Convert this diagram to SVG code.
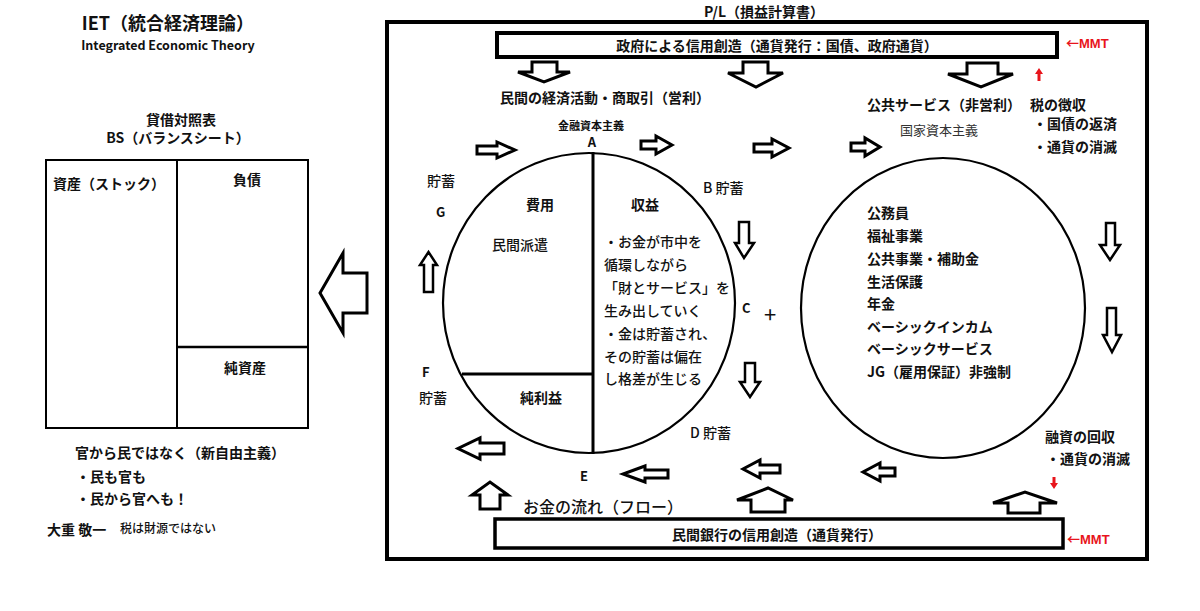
<svg xmlns="http://www.w3.org/2000/svg" width="1200" height="611" viewBox="0 0 1200 611">
<style>
text{font-family:"Noto Sans CJK JP","Noto Sans",sans-serif;fill:#111;}
.b{font-weight:bold;font-size:14px;}
.n{font-size:13px;}
.m{font-size:14px;font-weight:500;}
.l{font-weight:bold;font-size:13px;}
.red{font-family:"Liberation Sans","Noto Sans CJK JP",sans-serif;font-weight:bold;font-size:13px;fill:#e8141b;}
.ra{font-family:"Noto Sans CJK JP",sans-serif;font-weight:bold;}
.box{fill:#fff;stroke:#000;}
.arr{fill:#fff;stroke:#000;stroke-width:3;stroke-linejoin:miter;}
.arr2{fill:#fff;stroke:#000;stroke-width:2.5;stroke-linejoin:miter;}
.ln{stroke:#000;fill:none;}
</style>
<rect width="1200" height="611" fill="#fff"/>

<g id="title">
<text x="168" y="30" text-anchor="middle" style="font-weight:bold;font-size:18px">IET（統合経済理論）</text>
<text x="168" y="50" text-anchor="middle" style="font-weight:bold;font-size:12.5px">Integrated Economic Theory</text>
</g>

<g id="bs">
<text x="181" y="125" text-anchor="middle" class="b">貸借対照表</text>
<text x="178" y="143" text-anchor="middle" class="b">BS（バランスシート）</text>
<rect x="46" y="160" width="262" height="268" class="box" stroke-width="2"/>
<line x1="177" y1="160" x2="177" y2="428" class="ln" stroke-width="2"/>
<line x1="177" y1="347" x2="308" y2="347" class="ln" stroke-width="2.5"/>
<text x="53" y="189" class="b">資産（ストック）</text>
<text x="247" y="185" text-anchor="middle" class="b">負債</text>
<text x="245" y="373" text-anchor="middle" class="b">純資産</text>
</g>

<g id="notes">
<text x="75" y="458" class="b">官から民ではなく（新自由主義）</text>
<text x="76" y="482" class="b">・民も官も</text>
<text x="76" y="504" class="b">・民から官へも！</text>
<text x="47" y="535" class="b">大重 敬一</text>
<text x="120" y="533" style="font-size:12px;font-weight:500">税は財源ではない</text>
</g>

<g id="pl">
<text x="764" y="17" text-anchor="middle" class="b">P/L（損益計算書）</text>
<rect x="387" y="22" width="760" height="537" class="box" stroke-width="4"/>
</g>

<g id="gov">
<rect x="497" y="33" width="560" height="24" class="box" stroke-width="4"/>
<text x="777" y="51" text-anchor="middle" class="b">政府による信用創造（通貨発行：国債、政府通貨）</text>
<text x="1066" y="48" class="red"><tspan class="ra">←</tspan>MMT</text>
</g>

<g id="bank">
<rect x="495" y="519" width="568" height="29" class="box" stroke-width="3.5"/>
<text x="777" y="540" text-anchor="middle" class="b">民間銀行の信用創造（通貨発行）</text>
<text x="1067" y="544" class="red"><tspan class="ra">←</tspan>MMT</text>
</g>

<g id="private">
<text x="500" y="103" class="b">民間の経済活動・商取引（営利）</text>
<text x="591" y="130" text-anchor="middle" style="font-weight:bold;font-size:11px">金融資本主義</text>
<text x="592" y="147" text-anchor="middle" class="l">A</text>
<ellipse cx="589" cy="303" rx="146" ry="150" class="ln" stroke-width="2.2"/>
<line x1="593" y1="152" x2="593" y2="454" class="ln" stroke-width="3"/>
<line x1="462" y1="374" x2="593" y2="374" class="ln" stroke-width="3"/>
<text x="540" y="210" text-anchor="middle" class="b">費用</text>
<text x="645" y="210" text-anchor="middle" class="b">収益</text>
<text x="492" y="250" class="m">民間派遣</text>
<text x="604" y="247" class="m">・お金が市中を</text>
<text x="604" y="270" class="m">循環しながら</text>
<text x="604" y="293" class="m">「財とサービス」を</text>
<text x="604" y="316" class="m">生み出していく</text>
<text x="604" y="339" class="m">・金は貯蓄され、</text>
<text x="604" y="362" class="m">その貯蓄は偏在</text>
<text x="604" y="384" class="m">し格差が生じる</text>
<text x="541" y="403" text-anchor="middle" class="b">純利益</text>
</g>

<g id="labels">
<text x="427" y="186" class="m">貯蓄</text>
<text x="436" y="217" class="l">G</text>
<text x="703" y="193" class="m">B 貯蓄</text>
<text x="742" y="313" class="l">C</text>
<text x="770" y="323" text-anchor="middle" style="font-size:22px">+</text>
<text x="422" y="377" class="l">F</text>
<text x="419" y="403" class="m">貯蓄</text>
<text x="690" y="438" class="m">D 貯蓄</text>
<text x="584" y="481" text-anchor="middle" class="l">E</text>
<text x="523" y="513" style="font-weight:500;font-size:16px">お金の流れ（フロー）</text>
</g>

<g id="public">
<text x="867" y="110" class="b">公共サービス（非営利）</text>
<text x="900" y="135" style="font-size:13px;fill:#333">国家資本主義</text>
<ellipse cx="943" cy="308" rx="142" ry="150" class="ln" stroke-width="2.2"/>
<text x="867" y="218" class="b">公務員</text>
<text x="867" y="241" class="b">福祉事業</text>
<text x="867" y="264" class="b">公共事業・補助金</text>
<text x="867" y="287" class="b">生活保護</text>
<text x="867" y="309" class="b">年金</text>
<text x="867" y="332" class="b">ベーシックインカム</text>
<text x="867" y="354" class="b">ベーシックサービス</text>
<text x="867" y="377" class="b">JG（雇用保証）非強制</text>
</g>

<g id="tax">
<text x="1030" y="110" class="b">税の徴収</text>
<text x="1033" y="129" class="b">・国債の返済</text>
<text x="1033" y="152" class="b">・通貨の消滅</text>
</g>

<g id="loan">
<text x="1045" y="442" class="b">融資の回収</text>
<text x="1046" y="464" class="b">・通貨の消滅</text>
</g>

<g id="connectors">
<path class="arr" d="M532,62 H557 V72 H570 L544,82 L518,72 H532 Z"/>
<path class="arr" d="M743,62 H768 V73 H783 L756,87 L728,73 H743 Z"/>
<path class="arr" d="M967,63 H998 V74 H1013 L981,87 L948,74 H967 Z"/>
<path class="arr" d="M477,146 H497 V142 L515,150 L497,158 V154 H477 Z"/>
<path class="arr" d="M641,141 H656 V136 L672,145 L656,154 V149 H641 Z"/>
<path class="arr" d="M754,144 H772 V139 L789,148 L772,157 V152 H754 Z"/>
<path class="arr" d="M851,143 H865 V138 L880,147 L865,156 V151 H851 Z"/>
<path class="arr2" d="M739,222 H749 V243 H754 L744,258 L735,243 H739 Z"/>
<path class="arr2" d="M745,363 H755 V382 H760 L750,397 L740,382 H745 Z"/>
<path class="arr2" d="M1106,223 H1115 V245 H1120 L1110,260 L1100,245 H1106 Z"/>
<path class="arr2" d="M1107,308 H1116 V335 H1121 L1112,352 L1103,335 H1107 Z"/>
<path class="arr2" d="M424,292 V265 H420 L428.5,252 L437,265 H433 V292 Z"/>
<path class="arr" d="M504,443 H480 V438 L458,448.5 L480,459 V454 H504 Z"/>
<path class="arr" d="M668,470 H645 V466 L623,474 L645,482 V478 H668 Z"/>
<path class="arr" d="M780,465 H760 V460 L743,469 L760,478 V473 H780 Z"/>
<path class="arr" d="M895,468 H880 V463 L863,472 L880,481 V476 H895 Z"/>
<path class="arr" d="M480,509 V495 H472 L490,482 L508,495 H500 V509 Z"/>
<path class="arr" d="M751,512 V500 H737 L768,488 L793,500 H785 V512 Z"/>
<path class="arr" d="M1008,513 V503 H993 L1025,492 L1057,503 H1040 V513 Z"/>
<path class="arr" d="M367,273 H343 V253 L320,293 L343,333 V313 H367 Z"/>
<path d="M1037.5,81 V74 H1035 L1039,68 L1043,74 H1040.5 V81 Z" fill="#e8141b"/>
<path d="M1052.5,477 V483 H1050 L1054,489 L1058,483 H1055.5 V477 Z" fill="#e8141b"/>
</g>
</svg>
